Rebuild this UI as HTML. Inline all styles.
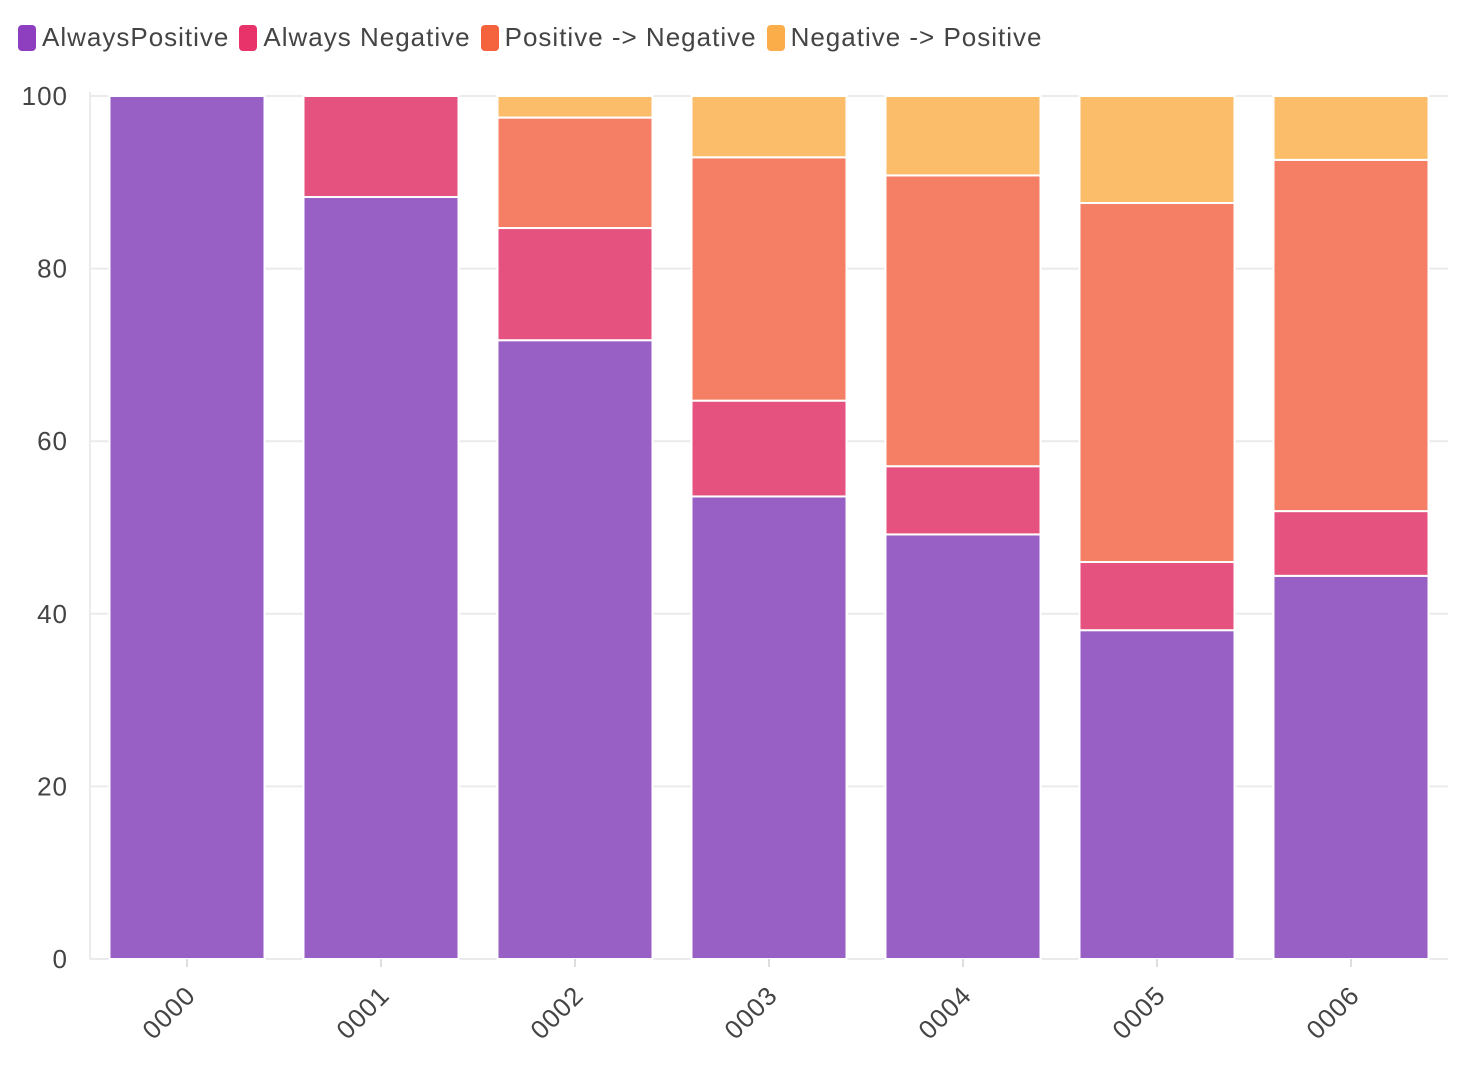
<!DOCTYPE html>
<html><head><meta charset="utf-8"><style>
body{margin:0;background:#fff;font-family:"Liberation Sans",sans-serif;}
.leg{position:absolute;top:22px;left:18px;display:flex;font-size:26px;color:#444;letter-spacing:1px;}
.li{display:flex;align-items:center;margin-right:10px;}
.sw{width:18px;height:26px;border-radius:4px;margin-right:6px;}
</style></head><body>
<div class="leg">
<div class="li"><div class="sw" style="background:#8e3fbf"></div>AlwaysPositive</div>
<div class="li"><div class="sw" style="background:#e8336a"></div>Always Negative</div>
<div class="li"><div class="sw" style="background:#f4623e"></div>Positive -&gt; Negative</div>
<div class="li"><div class="sw" style="background:#fbad4a"></div>Negative -&gt; Positive</div>
</div>
<svg id="c" width="1478" height="1068" style="position:absolute;left:0;top:0"></svg>
<script>
const categories=["0000","0001","0002","0003","0004","0005","0006"];
const alwaysPositive=[100,88.3,71.7,53.6,49.2,38.1,44.4];
const alwaysNegative=[0,11.7,13.0,11.1,7.9,7.9,7.5];
const posToNeg=[0,0,12.8,28.2,33.7,41.6,40.7];
const negToPos=[0,0,2.5,7.1,9.2,12.4,7.4];
const yTicks=[0,20,40,60,80,100];
const series=[alwaysPositive,alwaysNegative,posToNeg,negToPos];
const names=["always-positive","always-negative","positive-to-negative","negative-to-positive"];
const colors=["#985fc4","#e5527f","#f47f65","#fcbd6a"];
const svg=document.getElementById('c');const NS="http://www.w3.org/2000/svg";
const x0=90,x1=1448,yb=959,yt=96;
const y=v=>yb-(v/100)*(yb-yt);
const band=(x1-x0)/categories.length;
const xc=i=>x0+band*(i+0.5);
const bw=155;
function mk(t,a,p){const e=document.createElementNS(NS,t);for(const k in a)e.setAttribute(k,a[k]);(p||svg).appendChild(e);return e;}
yTicks.forEach(t=>{
 const g=mk('line',{x1:x0,x2:x1,y1:y(t),y2:y(t),stroke:'#ebebeb','stroke-width':2});
 
 
 const l=mk('text',{x:68,y:y(t)+9,'text-anchor':'end','font-size':26,fill:'#444','letter-spacing':1,'font-family':'Liberation Sans, sans-serif'});
 l.textContent=t;
 
 
});
const ax=mk('line',{x1:x0,x2:x0,y1:yt-4,y2:yb,stroke:'#ebebeb','stroke-width':2});


const xa=mk('line',{x1:x0,x2:x1,y1:yb,y2:yb,stroke:'#ebebeb','stroke-width':2});


categories.forEach((c,i)=>{
 let acc=0;
 series.forEach((s,k)=>{
  const v=s[i];if(v<=0)return;
  const r=mk('rect',{x:xc(i)-bw/2,y:y(acc+v),width:bw,height:y(acc)-y(acc+v),fill:colors[k],stroke:'#fff','stroke-width':2});
  
  
  acc+=v;
 });
 const tk=mk('line',{x1:xc(i),x2:xc(i),y1:yb,y2:yb+8,stroke:'#ddd','stroke-width':2});
 
 
 const tx=xc(i)+10,ty=yb+38;
 const t=mk('text',{x:tx,y:ty,'text-anchor':'end','font-size':26,fill:'#444','letter-spacing':1,'font-family':'Liberation Sans, sans-serif',transform:`rotate(-45 ${tx} ${ty})`});
 t.textContent=c;
 
 
});
</script>
</body></html>
